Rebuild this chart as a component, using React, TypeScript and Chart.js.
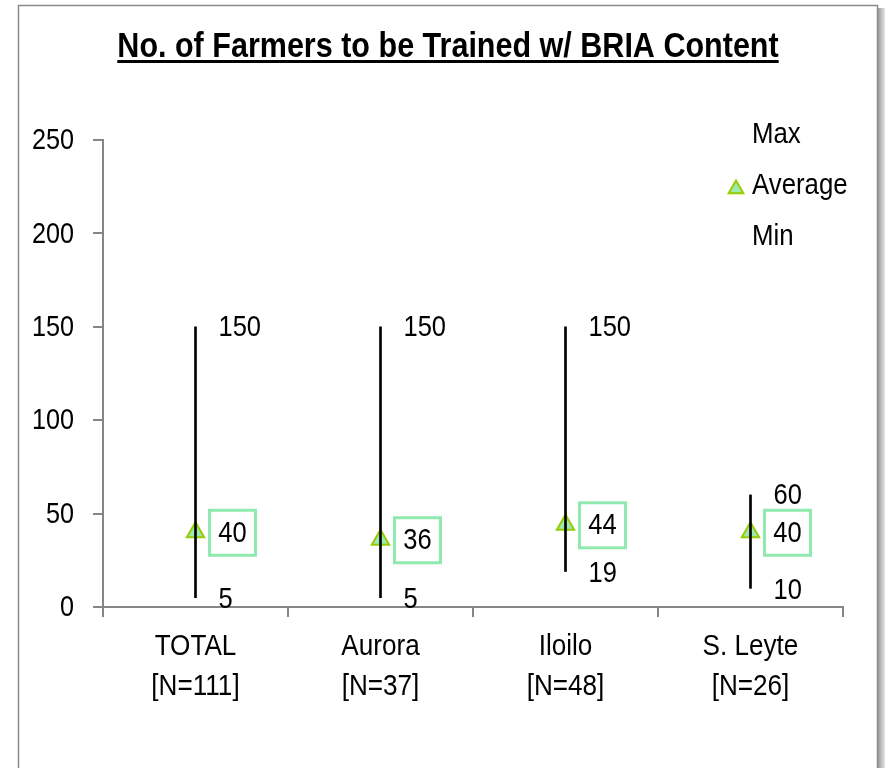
import React, { useEffect, useRef } from 'react';
import { Chart, registerables } from 'chart.js';

Chart.register(...registerables);

const TITLE = 'No. of Farmers to be Trained w/ BRIA Content';
const categories = [
  ['TOTAL', '[N=111]'],
  ['Aurora', '[N=37]'],
  ['Iloilo', '[N=48]'],
  ['S. Leyte', '[N=26]'],
];
const maxValues = [150, 150, 150, 60];
const avgValues = [40, 36, 44, 40];
const minValues = [5, 5, 19, 10];
const yTicks = [0, 50, 100, 150, 200, 250];
const legendLabels = ['Max', 'Average', 'Min'];

const FONT = '"Liberation Sans", Arial, sans-serif';
const SQUEEZE = 0.85;
const AXIS_GRAY = '#868686';
const MARK_FILL = '#9fe8b4';
const MARK_BORDER = '#99cc00';
const BOX_GREEN = '#90eab0';

function narrowText(
  ctx: CanvasRenderingContext2D,
  text: string,
  x: number,
  y: number,
  align: CanvasTextAlign,
  sx: number = SQUEEZE
) {
  ctx.save();
  ctx.translate(x, y);
  ctx.scale(sx, 1);
  ctx.textAlign = align;
  ctx.fillText(text, 0, 0);
  ctx.restore();
}

const framePlugin = {
  id: 'frame',
  beforeDraw(chart: any) {
    const ctx = chart.ctx;
    ctx.save();
    ctx.fillStyle = '#ffffff';
    ctx.fillRect(0, 0, chart.width, chart.height);
    const grad = ctx.createLinearGradient(878, 0, 885, 0);
    grad.addColorStop(0, '#9a9a9a');
    grad.addColorStop(1, '#e6e6e6');
    ctx.fillStyle = grad;
    ctx.fillRect(878, 8, 7, chart.height);
    ctx.strokeStyle = '#8a8a8a';
    ctx.lineWidth = 1.5;
    ctx.strokeRect(18.5, 5.5, 859, 800);
    ctx.restore();
  },
};

function drawTriangle(ctx: CanvasRenderingContext2D, x: number, y: number, r: number) {
  ctx.beginPath();
  let rad = 0;
  for (let i = 0; i < 3; i++) {
    const px = x + Math.sin(rad) * r;
    const py = y - Math.cos(rad) * r;
    if (i === 0) ctx.moveTo(px, py);
    else ctx.lineTo(px, py);
    rad += (2 * Math.PI) / 3;
  }
  ctx.closePath();
  ctx.fillStyle = MARK_FILL;
  ctx.fill();
  ctx.strokeStyle = MARK_BORDER;
  ctx.lineWidth = 2;
  ctx.stroke();
}

const labelsPlugin = {
  id: 'customLabels',
  afterDatasetsDraw(chart: any) {
    const ctx = chart.ctx;
    ctx.save();
    ctx.font = `30px ${FONT}`;
    ctx.fillStyle = '#000';
    ctx.textBaseline = 'middle';
    const maxMeta = chart.getDatasetMeta(1);
    maxMeta.data.forEach((pt: any, j: number) => {
      narrowText(ctx, String(maxValues[j]), pt.x + 23, pt.y + 1, 'left');
    });
    const minMeta = chart.getDatasetMeta(3);
    minMeta.data.forEach((pt: any, j: number) => {
      narrowText(ctx, String(minValues[j]), pt.x + 23, pt.y + 2, 'left');
    });
    const avgMeta = chart.getDatasetMeta(2);
    avgMeta.data.forEach((pt: any, j: number) => {
      const bx = pt.x + 14;
      const by = pt.y - 22;
      ctx.strokeStyle = BOX_GREEN;
      ctx.lineWidth = 3;
      ctx.strokeRect(bx, by, 46, 45);
      ctx.fillStyle = '#000';
      narrowText(ctx, String(avgValues[j]), bx + 23, pt.y + 1, 'center');
    });
    ctx.restore();
  },
  afterDraw(chart: any) {
    const ctx = chart.ctx;
    ctx.save();
    // title
    ctx.font = `bold 35px ${FONT}`;
    ctx.fillStyle = '#000';
    ctx.textBaseline = 'alphabetic';
    const tx = 448;
    const tsx = 0.872;
    narrowText(ctx, TITLE, tx, 57, 'center', tsx);
    const w = ctx.measureText(TITLE).width * tsx;
    ctx.fillRect(tx - w / 2, 60, w, 3);

    ctx.font = `30px ${FONT}`;
    ctx.textBaseline = 'middle';
    // y tick labels
    const ys = chart.scales.y;
    ys.ticks.forEach((t: any) => {
      narrowText(ctx, String(t.value), 74, ys.getPixelForValue(t.value) + 1, 'right', 0.84);
    });
    // x tick labels
    const xs = chart.scales.x;
    categories.forEach((lines, i) => {
      const x = xs.getPixelForValue(i);
      narrowText(ctx, lines[0], x, 647, 'center', 0.87);
      narrowText(ctx, lines[1], x, 687, 'center', 0.87);
    });
    // legend
    const ly = [135, 186, 237];
    legendLabels.forEach((lab, i) => {
      ctx.fillStyle = '#000';
      narrowText(ctx, lab, 752, ly[i], 'left', 0.86);
      if (lab === 'Average') drawTriangle(ctx, 736, ly[i] + 3, 8.5);
    });
    ctx.restore();
  },
};

export default function App() {
  const ref = useRef<HTMLCanvasElement | null>(null);
  useEffect(() => {
    if (!ref.current) return;
    const chart = new Chart(ref.current, {
      type: 'bar',
      data: {
        labels: categories.map((c) => c.join(' ')),
        datasets: [
          {
            type: 'bar',
            label: 'Range',
            data: categories.map((_, i) => [minValues[i], maxValues[i]]) as any,
            backgroundColor: '#000',
            borderWidth: 0,
            barThickness: 2,
          },
          {
            type: 'line',
            label: 'Max',
            data: maxValues,
            showLine: false,
            pointRadius: 0,
          },
          {
            type: 'line',
            label: 'Average',
            data: avgValues,
            showLine: false,
            pointStyle: 'triangle',
            pointRadius: 10,
            backgroundColor: MARK_FILL,
            borderColor: MARK_BORDER,
            borderWidth: 2,
          },
          {
            type: 'line',
            label: 'Min',
            data: minValues,
            showLine: false,
            pointRadius: 0,
          },
        ] as any,
      },
      options: {
        responsive: false,
        animation: false,
        layout: { padding: { left: 0, top: 140, right: 42, bottom: 0 } },
        plugins: {
          legend: { display: false },
          title: { display: false },
          tooltip: { enabled: false },
        },
        scales: {
          x: {
            offset: true,
            grid: {
              offset: true,
              drawOnChartArea: false,
              drawTicks: true,
              tickLength: 10,
              color: AXIS_GRAY,
              lineWidth: 2,
            },
            border: { color: AXIS_GRAY, width: 2 },
            ticks: {
              color: 'rgba(0,0,0,0)',
              maxRotation: 0,
              autoSkip: false,
              font: { family: FONT, size: 12 },
            },
            afterFit: (s: any) => {
              s.height = 161;
            },
          },
          y: {
            min: 0,
            max: 250,
            afterBuildTicks: (s: any) => {
              s.ticks = yTicks.map((v) => ({ value: v }));
            },
            grid: {
              drawOnChartArea: false,
              drawTicks: true,
              tickLength: 10,
              color: AXIS_GRAY,
              lineWidth: 2,
            },
            border: { color: AXIS_GRAY, width: 2 },
            ticks: {
              color: 'rgba(0,0,0,0)',
              font: { family: FONT, size: 12 },
            },
            afterFit: (s: any) => {
              s.width = 103;
            },
          },
        },
      },
      plugins: [framePlugin, labelsPlugin],
    });
    return () => chart.destroy();
  }, []);
  return (
    <div style={{ position: 'fixed', left: 0, top: 0, width: 885, height: 768 }}>
      <canvas ref={ref} width={885} height={768} />
    </div>
  );
}
